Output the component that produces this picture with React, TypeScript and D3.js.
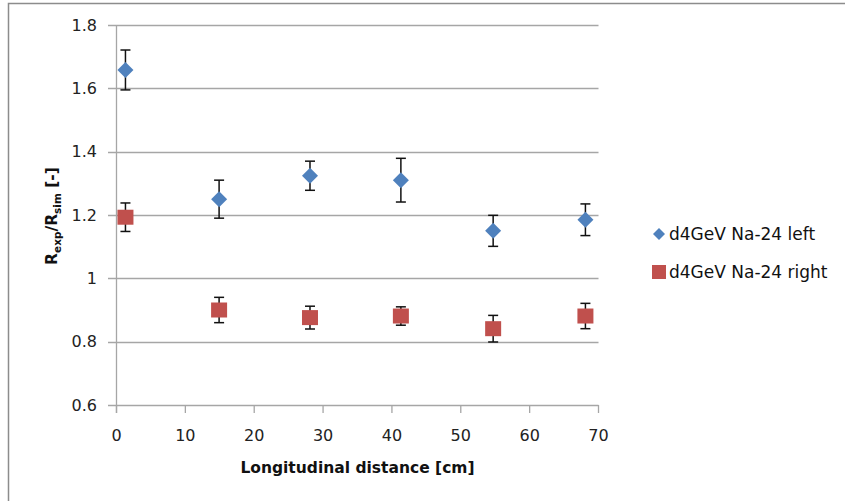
import React, { useEffect, useRef } from 'react';
import * as d3 from 'd3';

// distances along the sample [cm]
const leftX = [1.3, 14.9, 28.1, 41.3, 54.7, 68.1];
const leftRatio = [1.658, 1.25, 1.324, 1.31, 1.15, 1.185];
const leftErr = [0.063, 0.06, 0.046, 0.069, 0.049, 0.05];

const rightX = [1.3, 14.9, 28.1, 41.3, 54.7, 68.1];
const rightRatio = [1.193, 0.9, 0.876, 0.881, 0.841, 0.881];
const rightErr = [0.045, 0.04, 0.036, 0.029, 0.042, 0.04];

const xTicks = [0, 10, 20, 30, 40, 50, 60, 70];
const yTicks = [0.6, 0.8, 1, 1.2, 1.4, 1.6, 1.8];
const seriesNames = ['d4GeV Na-24 left', 'd4GeV Na-24 right'];

const BLUE = '#4f81bd';
const RED = '#c0504d';
const GRID = '#a6a6a6';
const FONT = '"DejaVu Sans", sans-serif';

export default function App() {
  const ref = useRef<SVGSVGElement>(null);

  useEffect(() => {
    const svg = d3.select(ref.current);
    svg.selectAll('*').remove();

    const x = d3.scaleLinear().domain([0, 70]).range([116.5, 598.5]);
    const y = d3.scaleLinear().domain([0.6, 1.8]).range([405, 25]);

    // outer frame
    svg.append('rect')
      .attr('x', 8.5).attr('y', 3.5)
      .attr('width', 900).attr('height', 600)
      .attr('fill', '#fff')
      .attr('stroke', '#8c8c8c').attr('stroke-width', 1.5);

    // horizontal grid + left ticks
    svg.append('g').selectAll('line').data(yTicks).enter().append('line')
      .attr('x1', 108).attr('x2', x(70))
      .attr('y1', (d) => Math.round(y(d)) + 0.5).attr('y2', (d) => Math.round(y(d)) + 0.5)
      .attr('stroke', GRID).attr('stroke-width', 1.3);

    svg.append('g').selectAll('text').data(yTicks).enter().append('text')
      .attr('x', 97).attr('y', (d) => y(d))
      .attr('dy', '0.36em')
      .attr('text-anchor', 'end')
      .attr('font-family', FONT).attr('font-size', 16)
      .attr('fill', '#222')
      .text((d) => d3.format('~g')(d));

    // y axis line
    svg.append('line')
      .attr('x1', x(0)).attr('x2', x(0))
      .attr('y1', y(1.8)).attr('y2', y(0.6) + 8)
      .attr('stroke', GRID).attr('stroke-width', 1.3);

    // x ticks
    svg.append('g').selectAll('line').data(xTicks).enter().append('line')
      .attr('x1', (d) => x(d)).attr('x2', (d) => x(d))
      .attr('y1', y(0.6)).attr('y2', y(0.6) + 8)
      .attr('stroke', GRID).attr('stroke-width', 1.3);

    svg.append('g').selectAll('text').data(xTicks).enter().append('text')
      .attr('x', (d) => x(d)).attr('y', y(0.6) + 36)
      .attr('text-anchor', 'middle')
      .attr('font-family', FONT).attr('font-size', 16)
      .attr('fill', '#222')
      .text((d) => d);

    // axis titles
    svg.append('text')
      .attr('x', (x(0) + x(70)) / 2).attr('y', 473)
      .attr('text-anchor', 'middle')
      .attr('font-family', FONT).attr('font-size', 15.5).attr('font-weight', 'bold')
      .attr('fill', '#111')
      .text('Longitudinal distance [cm]');

    const yt = svg.append('text')
      .attr('transform', 'translate(57,216) rotate(-90)')
      .attr('text-anchor', 'middle')
      .attr('font-family', FONT).attr('font-size', 15.5).attr('font-weight', 'bold')
      .attr('fill', '#111');
    yt.append('tspan').text('R');
    yt.append('tspan').attr('font-size', 10.5).attr('dy', 4).text('exp');
    yt.append('tspan').attr('dy', -4).text('/R');
    yt.append('tspan').attr('font-size', 10.5).attr('dy', 4).text('sim');
    yt.append('tspan').attr('dy', -4).text(' [-]');

    const diamond = d3.symbol().type(d3.symbolSquare).size(128);

    const drawSeries = (xs: number[], vs: number[], es: number[], kind: string) => {
      const g = svg.append('g');
      const pts = xs.map((xv, i) => ({ x: xv, v: vs[i], e: es[i] }));
      pts.forEach((p) => {
        const cx = x(p.x);
        const eb = g.append('g').attr('stroke', '#111').attr('stroke-width', 1.5);
        eb.append('line').attr('x1', cx).attr('x2', cx).attr('y1', y(p.v + p.e)).attr('y2', y(p.v - p.e));
        eb.append('line').attr('x1', cx - 5).attr('x2', cx + 5).attr('y1', y(p.v + p.e)).attr('y2', y(p.v + p.e));
        eb.append('line').attr('x1', cx - 5).attr('x2', cx + 5).attr('y1', y(p.v - p.e)).attr('y2', y(p.v - p.e));
      });
      pts.forEach((p) => {
        if (kind === 'diamond') {
          g.append('path')
            .attr('d', diamond()!)
            .attr('transform', `translate(${x(p.x)},${y(p.v)}) rotate(45)`)
            .attr('fill', BLUE);
        } else {
          g.append('rect')
            .attr('x', x(p.x) - 8).attr('y', y(p.v) - 7.5)
            .attr('width', 16).attr('height', 15)
            .attr('fill', RED);
        }
      });
    };

    drawSeries(leftX, leftRatio, leftErr, 'diamond');
    drawSeries(rightX, rightRatio, rightErr, 'square');

    // legend
    const lg = svg.append('g').attr('font-family', FONT).attr('font-size', 17).attr('fill', '#111');
    lg.append('path')
      .attr('d', d3.symbol().type(d3.symbolSquare).size(72)()!)
      .attr('transform', 'translate(659,234) rotate(45)')
      .attr('fill', BLUE);
    lg.append('rect')
      .attr('x', 652).attr('y', 265).attr('width', 14).attr('height', 14)
      .attr('fill', RED);
    lg.selectAll('text').data(seriesNames).enter().append('text')
      .attr('x', 669).attr('y', (d, i) => 234 + i * 38)
      .attr('dy', '0.36em')
      .text((d) => d);
  }, []);

  return (
    <svg
      ref={ref}
      width={845}
      height={501}
      style={{ position: 'absolute', left: 0, top: 0, background: '#fff' }}
    />
  );
}
